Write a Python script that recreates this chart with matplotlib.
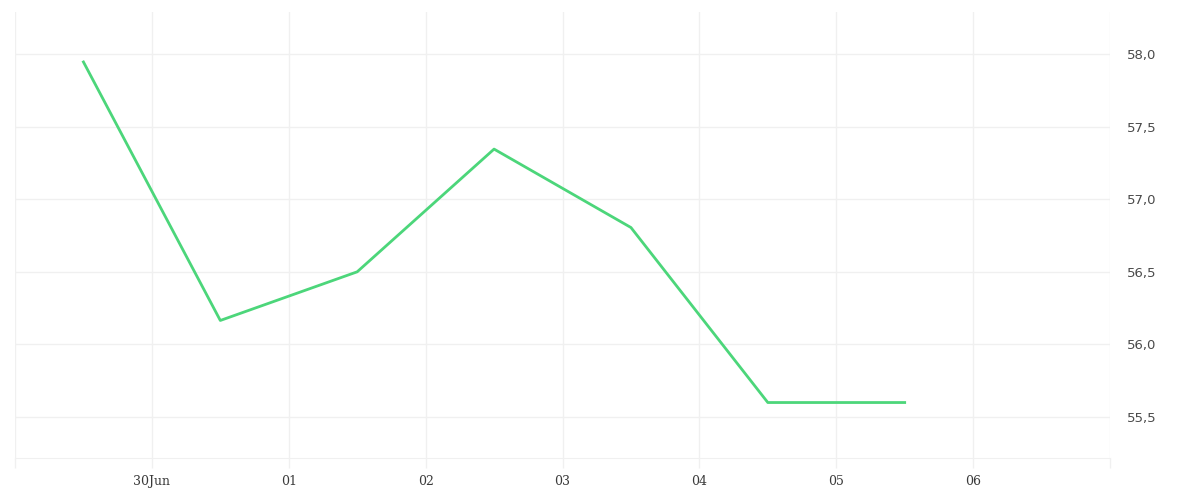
import datetime as dt
import matplotlib
matplotlib.use("Agg")
import matplotlib.pyplot as plt

# daily values, plotted at midday
days = [dt.datetime(2024, 6, 29, 12), dt.datetime(2024, 6, 30, 12), dt.datetime(2024, 7, 1, 12),
        dt.datetime(2024, 7, 2, 12), dt.datetime(2024, 7, 3, 12), dt.datetime(2024, 7, 4, 12),
        dt.datetime(2024, 7, 5, 12)]
values = [57.945, 56.165, 56.50, 57.345, 56.805, 55.60, 55.60]

tick_days = [dt.datetime(2024, 6, 29) + dt.timedelta(days=i) for i in range(9)]
tick_labels = ["", "30Jun", "01", "02", "03", "04", "05", "06", ""]
y_ticks = [55.5, 56.0, 56.5, 57.0, 57.5, 58.0]
y_labels = ["55,5", "56,0", "56,5", "57,0", "57,5", "58,0"]

GRID = "#f0f0f0"

fig = plt.figure(figsize=(12, 5), dpi=100, facecolor="white")
ax = fig.add_axes([15 / 1200, 42 / 500, 1095 / 1200, 446 / 500])

ax.plot(days, values, color="#4cd67a", lw=2)

ax.set_xlim(tick_days[0], tick_days[-1])
ax.set_ylim(55.218, 58.289)

ax.set_xticks(tick_days)
ax.set_xticklabels(tick_labels, family="DejaVu Serif", fontsize=9, color="#3a3a3a")
ax.set_yticks(y_ticks)
ax.set_yticklabels(y_labels, family="DejaVu Sans", fontsize=9.5, color="#4a4a4a")
ax.yaxis.tick_right()

ax.tick_params(axis="x", length=7.5, width=1, color=GRID, pad=5)
ax.tick_params(axis="y", length=0, pad=12)

ax.grid(True, color=GRID, lw=1)
for side in ["top", "left", "right"]:
    ax.spines[side].set_visible(False)
ax.spines["bottom"].set_color(GRID)
ax.set_axisbelow(True)

fig.savefig("out.png", dpi=100, facecolor="white")
